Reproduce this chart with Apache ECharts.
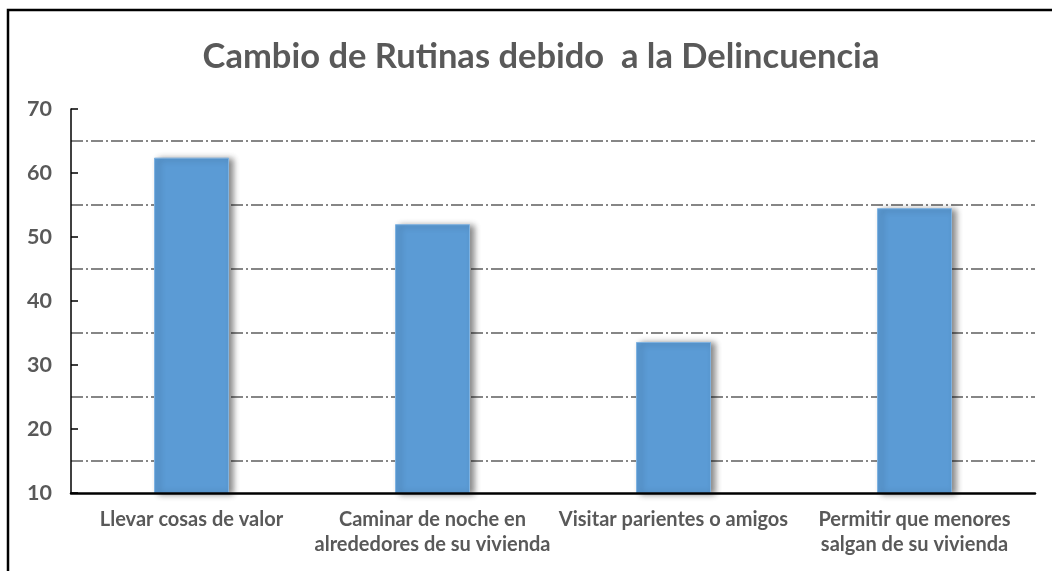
<!DOCTYPE html>
<html>
<head>
<meta charset="utf-8">
<script src="https://cdn.jsdelivr.net/npm/echarts@6/dist/echarts.min.js"></script>
<style>
html,body{margin:0;padding:0;background:#fff;}
#chart{width:1052px;height:571px;}
</style>
</head>
<body>
<div id="chart"></div>
<script>
const titleText = 'Cambio de Rutinas debido  a la Delincuencia';
const categories = [
  'Llevar cosas de valor',
  'Caminar de noche en\nalrededores de su vivienda',
  'Visitar parientes o amigos',
  'Permitir que menores\nsalgan de su vivienda'
];
const values = [62.4, 52.0, 33.6, 54.5];
const yMin = 10, yMax = 70, yStep = 10;

const chart = echarts.init(document.getElementById('chart'));
const font = 'Lato, "Open Sans", sans-serif';
chart.setOption({
  backgroundColor: '#ffffff',
  animation: false,
  title: {
    text: titleText,
    left: 536,
    top: 34,
    textAlign: 'center',
    textStyle: { fontFamily: font, fontSize: 34.5, fontWeight: 'bold', color: '#595959' }
  },
  graphic: [
    { type: 'rect', shape: { x: 8, y: 10, width: 1100, height: 700 },
      style: { fill: 'none', stroke: '#000', lineWidth: 2.5 }, silent: true }
  ],
  grid: { left: 71, right: 17, top: 109, bottom: 78, containLabel: false },
  xAxis: {
    type: 'category',
    data: categories,
    axisLine: { show: true, lineStyle: { color: '#000', width: 2.5 } },
    axisTick: { show: false },
    axisLabel: {
      interval: 0, margin: 14, color: '#595959', fontFamily: font,
      fontSize: 20, fontWeight: 'bold', lineHeight: 25
    },
    splitLine: { show: false },
    z: 5
  },
  yAxis: {
    type: 'value',
    min: yMin, max: yMax, interval: yStep,
    axisLine: { show: true, lineStyle: { color: '#000', width: 1.5 } },
    axisTick: { show: true, inside: true, length: 7, lineStyle: { color: '#000', width: 1.5 } },
    axisLabel: { margin: 19, color: '#595959', fontFamily: font, fontSize: 21.5, fontWeight: 'bold' },
    splitLine: { show: false },
    minorTick: { show: false, splitNumber: 2 },
    minorSplitLine: { show: true, lineStyle: { color: '#5f5f5f', width: 1.5, type: [12, 3, 2, 3] } }
  },
  series: [{
    type: 'bar',
    data: values,
    barWidth: 75,
    itemStyle: {
      color: '#5B9BD5',
      borderColor: '#7FB2E0',
      borderWidth: 1,
      shadowColor: 'rgba(0,0,0,0.45)',
      shadowBlur: 6,
      shadowOffsetX: 4,
      shadowOffsetY: 1
    },
    z: 3
  }]
});
</script>
</body>
</html>
